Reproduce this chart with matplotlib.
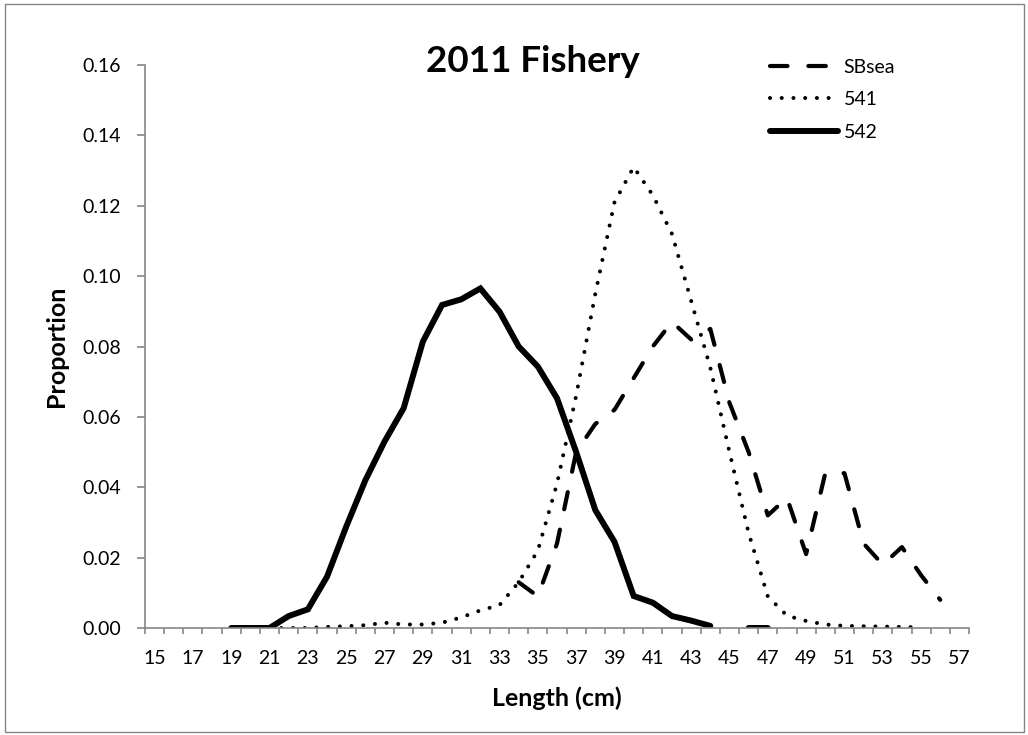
import numpy as np
from matplotlib import pyplot as plt
import matplotlib.patches as patches

# length classes (cm) and proportions
lengths = list(range(15, 58))
nan = np.nan
sbsea = [nan]*19 + [0.013, 0.009, 0.024, 0.050, 0.058, 0.062, 0.071, 0.080, 0.087,
                    0.082, 0.085, 0.064, 0.050, 0.032, 0.037, 0.021, 0.044, 0.044,
                    0.024, 0.018, 0.023, 0.015, 0.008, nan]
s541 = [nan]*6 + [0.0, 0.0, 0.0, 0.0003, 0.0005, 0.0008, 0.0015, 0.001, 0.001, 0.0015,
                  0.003, 0.005, 0.0065, 0.013, 0.022, 0.041, 0.066, 0.095, 0.121,
                  0.131, 0.123, 0.112, 0.093, 0.074, 0.050, 0.027, 0.009, 0.0035,
                  0.002, 0.001, 0.0006, 0.0005, 0.0004, 0.0003, 0.0002, nan, nan]
s542 = [nan]*4 + [0.0, 0.0, 0.0, 0.0034, 0.0053, 0.0146, 0.0288, 0.042, 0.053, 0.0625,
                  0.0814, 0.0918, 0.0934, 0.0965, 0.0899, 0.080, 0.0743, 0.0653,
                  0.050, 0.0335, 0.0245, 0.0091, 0.0072, 0.0034, 0.0021, 0.0006,
                  nan, 0.0, 0.0] + [nan]*10
yticks = [0.00, 0.02, 0.04, 0.06, 0.08, 0.10, 0.12, 0.14, 0.16]

plt.rcParams['font.family'] = ['Lato', 'DejaVu Sans']
W, H = 1028, 735
fig = plt.figure(figsize=(W/100, H/100), dpi=100)
fig.patches.append(patches.Rectangle((4.5/W, 3.5/H), 1019/W, 728/H, transform=fig.transFigure,
                                     fill=False, edgecolor='#868686', linewidth=1))

ax = fig.add_axes([145/W, 1-628/H, (969-145)/W, (628-65)/H])
x = np.arange(len(lengths))

gray = '#868686'
ax.plot(x, sbsea, color='black', lw=3, dashes=(4.2, 5), dash_capstyle='round',
        solid_capstyle='round', label='SBsea')
ax.plot(x, s541, color='black', lw=2.9, dashes=(0.01, 2.9), dash_capstyle='round',
        label='541')
ax.plot(x, s542, color='black', lw=4.3, solid_capstyle='round', solid_joinstyle='miter',
        label='542')

ax.set_xlim(-0.5, len(lengths)-0.5)
ax.set_ylim(0, 0.16)
ax.set_yticks(yticks)
ax.set_yticklabels([f'{v:.2f}' for v in yticks])
ax.set_xticks(np.arange(len(lengths)+1)-0.5)
ax.set_xticklabels([])
ax.set_xticks(x[::2], minor=True)
ax.set_xticklabels([str(v) for v in lengths[::2]], minor=True)

for s in ['top', 'right']:
    ax.spines[s].set_visible(False)
for s in ['left', 'bottom']:
    ax.spines[s].set_color(gray)
    ax.spines[s].set_linewidth(1.2)
ax.tick_params(axis='y', direction='out', length=5.5, color=gray, width=1.2,
               labelsize=14, pad=12)
ax.tick_params(axis='x', which='major', direction='out', length=4.5, color=gray, width=1.2)
ax.tick_params(axis='x', which='minor', length=0, labelsize=14, pad=16)

ax.set_xlabel('Length (cm)', fontsize=18, fontweight='bold', labelpad=14)
ax.set_ylabel('Proportion', fontsize=18, fontweight='bold', labelpad=10)
fig.text(533/W, 1-61/H, '2011 Fishery', fontsize=26.5, fontweight='bold',
         ha='center', va='center')

ax.legend(loc='upper left', bbox_to_anchor=(760/W, 1-49/H), bbox_transform=fig.transFigure,
          frameon=False, fontsize=14, handlelength=3.5, handletextpad=0.3,
          labelspacing=0.8, borderpad=0)

fig.savefig('out.png', dpi=100)
